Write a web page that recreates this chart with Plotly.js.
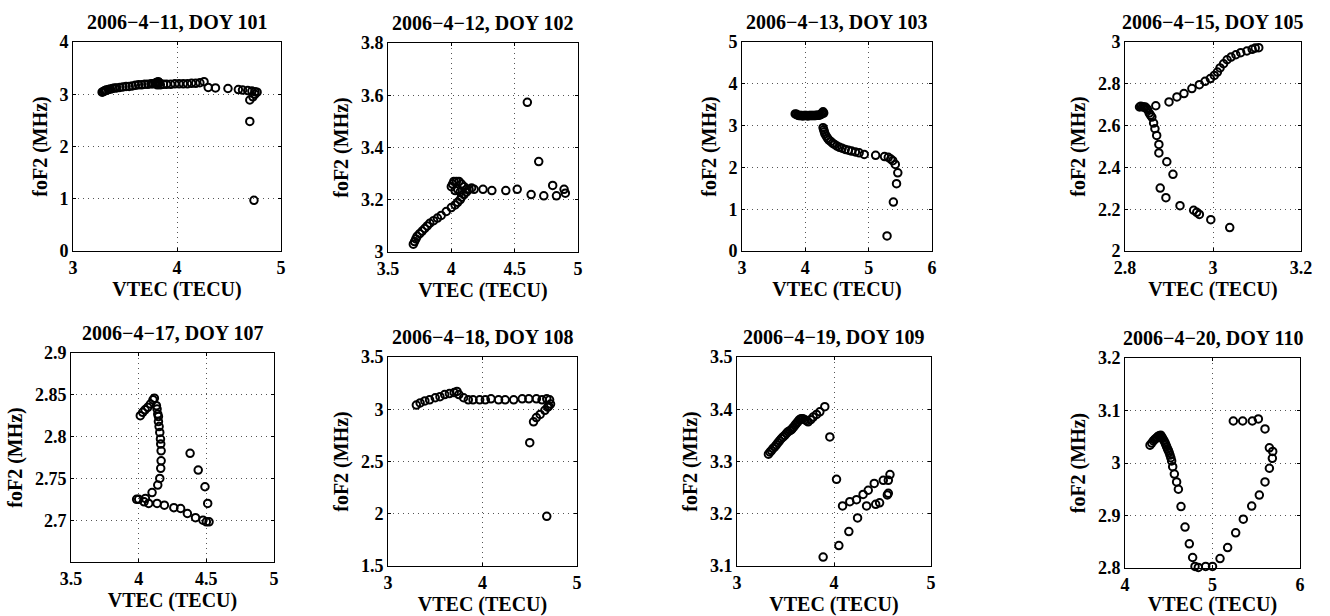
<!DOCTYPE html>
<html><head><meta charset="utf-8">
<script src="https://cdn.plot.ly/plotly-3.0.1.min.js"></script>
<style>html,body{margin:0;padding:0;background:#fff}#chart{width:1330px;height:616px}</style>
</head><body><div id="chart"></div><script>
// ---- titles ----
const panelTitles = ["2006\u22124\u221211, DOY 101","2006\u22124\u221212, DOY 102","2006\u22124\u221213, DOY 103","2006\u22124\u221215, DOY 105",
                     "2006\u22124\u221217, DOY 107","2006\u22124\u221218, DOY 108","2006\u22124\u221219, DOY 109","2006\u22124\u221220, DOY 110"];
const xTitle = "VTEC (TECU)";
const yTitle = "foF2 (MHz)";

// ---- data ----
const x101 = [3.28,3.29,3.30,3.31,3.32,3.34,3.36,3.38,3.40,3.42,3.45,3.48,3.51,3.54,3.57,3.60,3.63,3.66,3.69,3.72,3.75,3.77,3.79,3.80,3.81,3.82,3.83,3.81,3.84,3.87,3.90,3.94,3.98,4.02,4.06,4.10,4.14,4.18,4.22,4.26,4.30,4.37,4.49,4.59,4.63,4.68,4.72,4.75,4.77,4.75,4.73,4.70,4.70,4.74];
const y101 = [3.04,3.05,3.06,3.07,3.08,3.09,3.10,3.11,3.12,3.12,3.13,3.14,3.15,3.15,3.16,3.17,3.18,3.18,3.19,3.19,3.20,3.20,3.21,3.22,3.23,3.24,3.22,3.18,3.18,3.19,3.19,3.19,3.20,3.20,3.20,3.20,3.21,3.21,3.22,3.24,3.13,3.12,3.11,3.09,3.08,3.07,3.06,3.05,3.04,3.00,2.95,2.89,2.48,0.97];

const x102 = [3.70,3.71,3.72,3.73,3.75,3.77,3.79,3.81,3.83,3.86,3.89,3.92,3.96,4.00,4.03,4.05,4.07,4.08,4.10,4.12,4.14,4.16,4.00,4.01,4.02,4.04,4.06,4.08,4.10,4.05,4.03,4.07,4.12,4.18,4.25,4.32,4.43,4.52,4.63,4.73,4.80,4.83,4.89,4.90,4.60,4.69];
const y102 = [3.03,3.04,3.05,3.06,3.07,3.08,3.09,3.10,3.11,3.12,3.13,3.14,3.155,3.17,3.18,3.19,3.20,3.21,3.22,3.23,3.24,3.245,3.25,3.26,3.27,3.27,3.27,3.26,3.25,3.24,3.235,3.23,3.24,3.24,3.24,3.235,3.235,3.24,3.22,3.215,3.255,3.215,3.24,3.225,3.573,3.346];

const x103 = [3.84,3.86,3.88,3.90,3.92,3.94,3.96,3.98,4.00,4.02,4.04,4.06,4.08,4.10,4.12,4.14,4.16,4.18,4.20,4.22,4.24,4.26,4.27,4.28,4.29,4.28,4.29,4.30,4.31,4.33,4.35,4.37,4.40,4.43,4.46,4.50,4.54,4.58,4.63,4.68,4.73,4.79,4.85,4.93,5.11,5.25,5.31,5.35,5.38,5.42,5.46,5.44,5.39,5.29];
const y103 = [3.28,3.27,3.25,3.24,3.24,3.24,3.23,3.24,3.24,3.24,3.23,3.24,3.24,3.24,3.24,3.24,3.24,3.25,3.25,3.25,3.26,3.28,3.31,3.33,3.30,2.95,2.90,2.85,2.80,2.75,2.70,2.66,2.62,2.58,2.55,2.51,2.48,2.46,2.43,2.41,2.39,2.37,2.35,2.31,2.29,2.26,2.24,2.20,2.16,2.07,1.87,1.61,1.17,0.36];

const x105 = [2.833,2.836,2.840,2.843,2.846,2.849,2.851,2.855,2.858,2.861,2.865,2.868,2.872,2.877,2.877,2.895,2.909,2.880,2.893,2.925,2.956,2.963,2.969,2.995,3.038,2.870,2.900,2.918,2.934,2.952,2.969,2.982,2.994,3.003,3.010,3.016,3.024,3.032,3.041,3.052,3.063,3.077,3.089,3.096,3.104];
const y105 = [2.689,2.692,2.690,2.688,2.689,2.683,2.676,2.660,2.650,2.641,2.612,2.585,2.553,2.510,2.469,2.427,2.367,2.301,2.255,2.217,2.195,2.185,2.175,2.150,2.112,2.695,2.713,2.737,2.753,2.777,2.796,2.812,2.825,2.840,2.856,2.876,2.896,2.915,2.928,2.939,2.949,2.957,2.965,2.971,2.973];

const x107 = [4.012,4.030,4.047,4.067,4.087,4.106,4.116,4.131,4.136,4.141,4.146,4.146,4.151,4.156,4.161,4.163,4.166,4.166,4.163,4.156,4.141,4.099,4.050,4.000,3.985,4.040,4.074,4.136,4.190,4.260,4.310,4.360,4.420,4.475,4.500,4.520,4.380,4.440,4.490,4.510];
const y107 = [2.825,2.829,2.832,2.835,2.839,2.844,2.846,2.837,2.833,2.827,2.824,2.818,2.812,2.805,2.797,2.791,2.783,2.771,2.762,2.750,2.742,2.733,2.726,2.725,2.725,2.722,2.720,2.720,2.718,2.715,2.714,2.708,2.703,2.700,2.698,2.698,2.780,2.760,2.740,2.720];

const x108 = [3.30,3.34,3.39,3.44,3.50,3.55,3.60,3.65,3.70,3.73,3.75,3.80,3.85,3.90,3.97,4.03,4.09,4.17,4.24,4.33,4.42,4.49,4.57,4.63,4.68,4.71,4.72,4.70,4.69,4.66,4.61,4.57,4.54,4.50,4.68];
const y108 = [3.04,3.06,3.08,3.09,3.11,3.12,3.14,3.15,3.16,3.17,3.14,3.11,3.09,3.09,3.09,3.09,3.10,3.09,3.09,3.09,3.10,3.10,3.10,3.09,3.10,3.09,3.05,3.03,3.02,2.99,2.95,2.92,2.88,2.68,1.975];

const x109 = [3.324,3.340,3.355,3.372,3.389,3.406,3.423,3.440,3.458,3.475,3.492,3.510,3.527,3.545,3.561,3.573,3.585,3.600,3.613,3.627,3.640,3.652,3.664,3.680,3.699,3.716,3.733,3.760,3.785,3.820,3.854,3.905,3.957,4.026,3.888,4.050,4.153,4.243,4.336,4.430,4.470,4.550,4.560,4.088,4.163,4.232,4.300,4.353,4.415,4.508,4.560,4.577];
const y109 = [3.314,3.318,3.321,3.325,3.328,3.332,3.336,3.340,3.344,3.347,3.350,3.354,3.357,3.359,3.361,3.364,3.366,3.370,3.373,3.376,3.379,3.381,3.382,3.382,3.380,3.378,3.376,3.380,3.385,3.390,3.395,3.405,3.347,3.266,3.117,3.139,3.166,3.192,3.215,3.218,3.221,3.236,3.239,3.215,3.223,3.227,3.237,3.245,3.258,3.264,3.264,3.275];

const x110 = [4.286,4.305,4.324,4.340,4.354,4.368,4.381,4.395,4.408,4.420,4.430,4.444,4.457,4.466,4.476,4.486,4.495,4.505,4.514,4.524,4.533,4.545,4.564,4.590,4.610,4.640,4.686,4.735,4.773,4.800,4.838,4.922,5.000,5.086,5.173,5.265,5.352,5.448,5.535,5.600,5.650,5.684,5.688,5.650,5.600,5.524,5.455,5.345,5.238];
const y110 = [3.034,3.038,3.042,3.045,3.047,3.049,3.051,3.052,3.053,3.050,3.047,3.043,3.039,3.035,3.031,3.027,3.024,3.020,3.015,3.010,3.004,2.993,2.979,2.964,2.950,2.917,2.878,2.846,2.820,2.803,2.801,2.803,2.803,2.818,2.839,2.867,2.893,2.918,2.939,2.964,2.990,3.009,3.022,3.029,3.065,3.084,3.080,3.080,3.080];

// ---- axis ranges and ticks ----
const xRanges = [[3,5],[3.5,5],[3,6],[2.8,3.2],[3.5,5],[3,5],[3,5],[4,6]];
const yRanges = [[0,4],[3,3.8],[0,5],[2,3],[2.65,2.9],[1.5,3.5],[3.1,3.5],[2.8,3.2]];
const xTickVals = [[3,4,5],[3.5,4,4.5,5],[3,4,5,6],[2.8,3,3.2],[3.5,4,4.5,5],[3,4,5],[3,4,5],[4,5,6]];
const yTickVals = [[0,1,2,3,4],[3,3.2,3.4,3.6,3.8],[0,1,2,3,4,5],[2,2.2,2.4,2.6,2.8,3],[2.7,2.75,2.8,2.85,2.9],[1.5,2,2.5,3,3.5],[3.1,3.2,3.3,3.4,3.5],[2.8,2.9,3,3.1,3.2]];

const xs = [x101,x102,x103,x105,x107,x108,x109,x110];
const ys = [y101,y102,y103,y105,y107,y108,y109,y110];

// ---- layout geometry (pixel boxes: left, right, top, bottom) ----
const W = 1330, H = 616;
const boxes = [[73,281,42,251],[388,578,43,252],[742,932,42,251],[1125,1301,42,251],
               [71,274,353,562],[388,577,357,566],[737,931,357,566],[1125,1300,358,568]];

const FONT = "Liberation Serif, Times New Roman, serif";
const traces = [];
const layout = {
  width: W, height: H,
  margin: {l:0, r:0, t:0, b:0},
  paper_bgcolor: "#ffffff", plot_bgcolor: "#ffffff",
  showlegend: false,
  font: {family: FONT, size: 18, color: "#000", weight: "bold"},
  annotations: []
};

for (let i = 0; i < 8; i++) {
  const n = i === 0 ? "" : String(i + 1);
  const b = boxes[i];
  traces.push({
    type: "scatter", mode: "markers",
    x: xs[i], y: ys[i],
    xaxis: "x" + n, yaxis: "y" + n,
    cliponaxis: false,
    marker: {symbol: "circle-open", size: 7.5, color: "#000", line: {width: 2, color: "#000"}},
    hoverinfo: "skip"
  });
  const common = {
    showline: true, mirror: "ticks", linecolor: "#000", linewidth: 1,
    ticks: "inside", ticklen: 3, tickwidth: 1, tickcolor: "#000",
    showgrid: true, gridcolor: "#555", gridwidth: 1, griddash: "1px,4px",
    zeroline: false, automargin: false, fixedrange: true,
    tickfont: {family: FONT, size: 18, color: "#000", weight: "bold"}
  };
  layout["xaxis" + n] = Object.assign({}, common, {
    domain: [b[0] / W, b[1] / W], anchor: "y" + n,
    range: xRanges[i], tickmode: "array", tickvals: xTickVals[i],
    title: {text: xTitle, standoff: 3, font: {family: FONT, size: 20, color: "#000", weight: "bold"}}
  });
  layout["yaxis" + n] = Object.assign({}, common, {
    domain: [1 - b[3] / H, 1 - b[2] / H], anchor: "x" + n,
    range: yRanges[i], tickmode: "array", tickvals: yTickVals[i],
    title: {text: yTitle, standoff: 6, font: {family: FONT, size: 20, color: "#000", weight: "bold"}}
  });
  layout.annotations.push({
    xref: "paper", yref: "paper",
    x: (b[0] + b[1]) / 2 / W, y: 1 - b[2] / H,
    xanchor: "center", yanchor: "bottom", yshift: 7, showarrow: false,
    text: panelTitles[i],
    font: {family: FONT, size: 20, color: "#000", weight: "bold"}
  });
}

Plotly.newPlot("chart", traces, layout, {displayModeBar: false, staticPlot: true});
</script></body></html>
